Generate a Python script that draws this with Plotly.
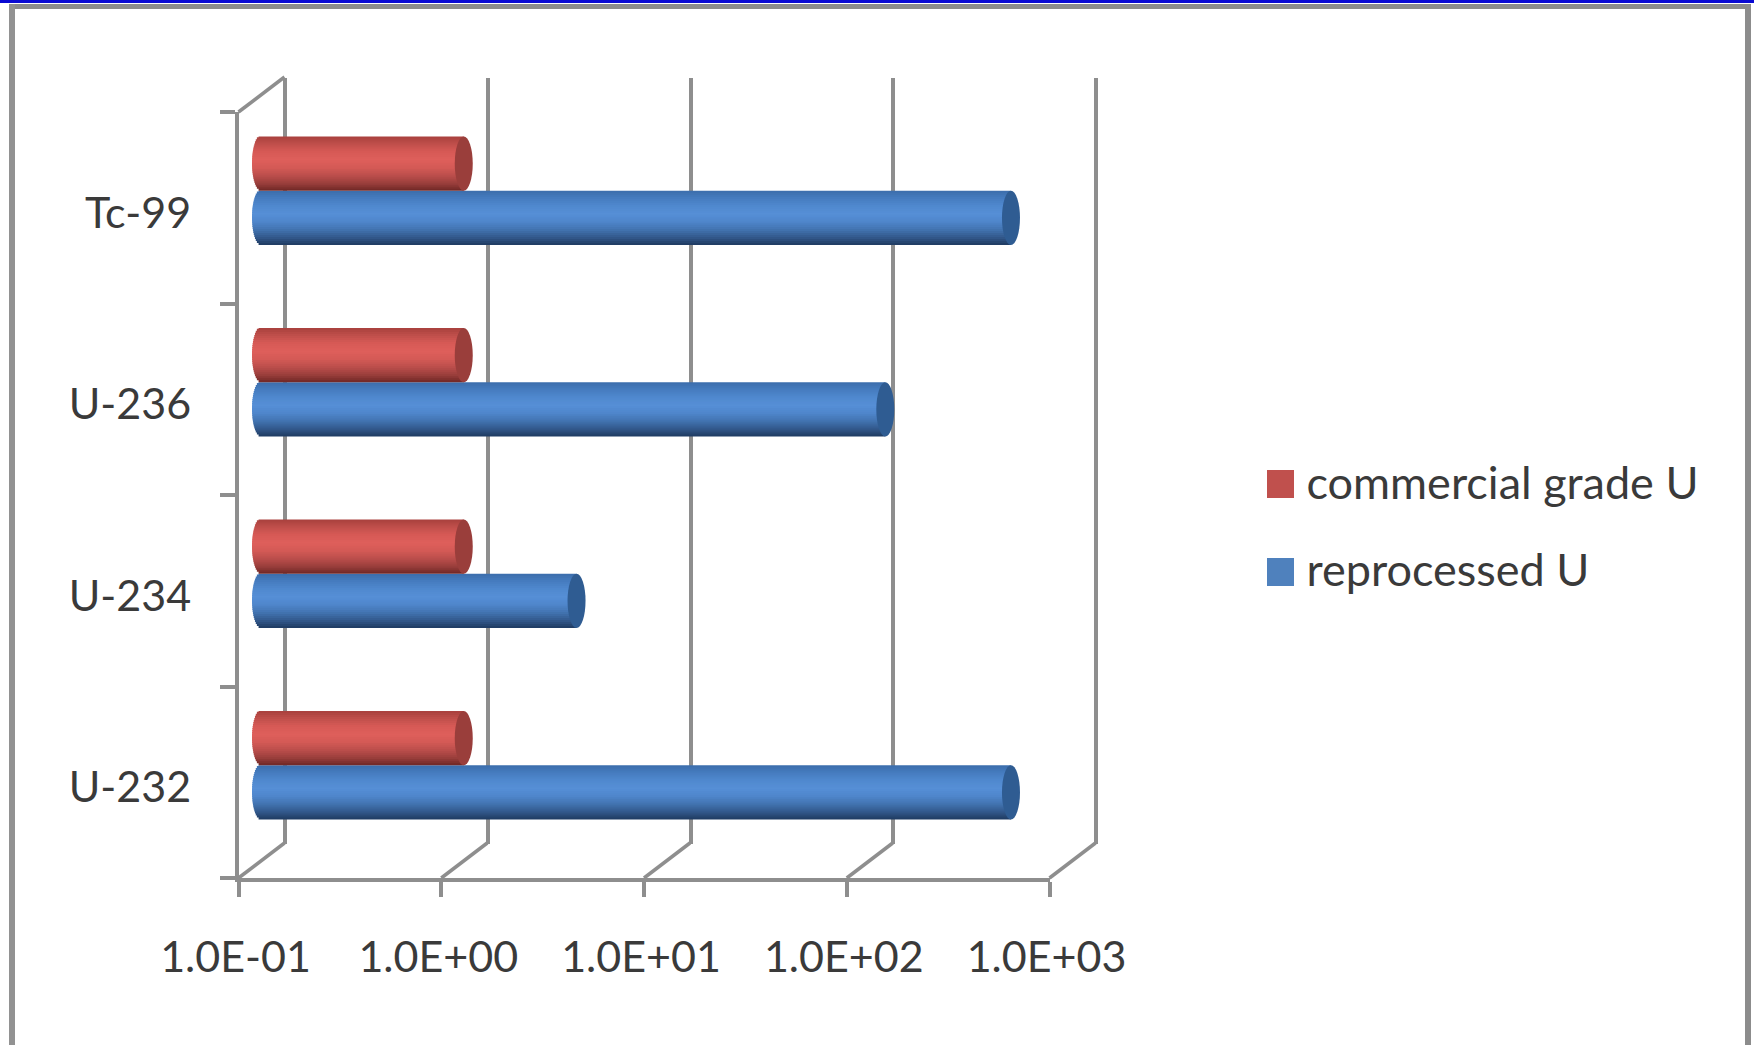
import numpy as np
import plotly.graph_objects as go

W, H = 1754, 1045

# ---- data ----
categories = ["U-232", "U-234", "U-236", "Tc-99"]
commercial_grade = [1.0, 1.0, 1.0, 1.0]
reprocessed = [500, 3.6, 120, 500]
x_ticks = [0.1, 1, 10, 100, 1000]
x_tick_labels = ["1.0E-01", "1.0E+00", "1.0E+01", "1.0E+02", "1.0E+03"]

# ---- styling ----
GREY = "#8e8e8e"
LINE_W = 3.5
TEXT = "#3a3a3a"
FONT = "Lato"
# vertical cylinder shading, top edge to bottom edge
RED_STOPS = ["#a8403d", "#c04f4b", "#d75a56", "#de5f5b", "#d45a56", "#bc4f4c", "#9c403d", "#6f2725"]
BLUE_STOPS = ["#3c6dab", "#467cc0", "#5089cf", "#568fd6", "#4f86cc", "#4273b0", "#33598c", "#1e3a60"]
RED_CAP, BLUE_CAP = "#9a3e3b", "#2f5c92"
RED_KEY, BLUE_KEY = "#c0504d", "#4f81bd"

BAR_SPAN = 0.283       # height of one cylinder, in category units
BANDS = 27             # horizontal slices that make up the shading
CAP_PX = 9             # half width of the elliptical bar ends
DECADE_PX = 202.75
BAR_LEFT_PX = 261      # where 0.1 sits on the mid-depth bar axis
FRONT_LEFT_PX = 238.5  # where 0.1 sits on the front axis
BAR_PAD_PX = 30        # extra room on both sides of the bar axis for bar ends and diagonals
GRID_PAD_PX = 4        # keeps the first and last gridline inside the axis range


def xdom(a, b):
    return [a / W, b / W]


def ydom(top, bottom):
    return [1 - bottom / H, 1 - top / H]


def shade(stops, t):
    rgb = [[int(s[i:i + 2], 16) for i in (1, 3, 5)] for s in stops]
    pos = t * (len(rgb) - 1)
    i = min(int(pos), len(rgb) - 2)
    f = pos - i
    c = [round(rgb[i][k] * (1 - f) + rgb[i + 1][k] * f) for k in range(3)]
    return f"rgb({c[0]},{c[1]},{c[2]})"


fig = go.Figure()

# back wall: carries the vertical gridlines, drawn first so bars sit on top of it
fig.add_trace(go.Scatter(x=x_ticks, y=[categories[0]] * 5, mode="none",
                         xaxis="x", yaxis="y", showlegend=False, hoverinfo="skip"))


def add_cylinder(values, stops, offset_sign):
    band = BAR_SPAN / BANDS
    for k in range(BANDS):                 # k = 0 is the lowest slice
        t_from_top = 1 - (k + 0.5) / BANDS
        u = 2 * t_from_top - 1
        reach = CAP_PX / DECADE_PX * np.sqrt(max(1 - u * u, 0))
        base = 10 ** (-1 - reach)
        low = (0 if offset_sign > 0 else -BAR_SPAN) + k * band
        fig.add_trace(go.Bar(
            y=categories, x=[v - base for v in values], base=base, orientation="h",
            offset=low, width=band * (1.6 if k < BANDS - 1 else 1.0),
            marker=dict(color=shade(stops, t_from_top), line_width=0),
            xaxis="x2", yaxis="y2", showlegend=False, hoverinfo="skip"))


add_cylinder(reprocessed, BLUE_STOPS, -1)
add_cylinder(commercial_grade, RED_STOPS, +1)

# legend entries; their colour keys are the larger squares added below
for name in ("commercial grade U", "reprocessed U"):
    fig.add_trace(go.Bar(y=categories, x=[None] * 4, name=name, orientation="h",
                         marker=dict(color="rgba(0,0,0,0)", line_width=0),
                         xaxis="x2", yaxis="y2", legendgroup=name, hoverinfo="skip"))

# front plane: tick marks and labels
fig.add_trace(go.Scatter(x=[x_ticks[0]] * 4, y=categories, mode="none",
                         xaxis="x3", yaxis="y3", showlegend=False, hoverinfo="skip"))

shapes = []
FRONT_TO_BAR = 10 ** ((FRONT_LEFT_PX - BAR_LEFT_PX) / DECADE_PX)


def diagonal(tick, y_px):
    # runs on the wider bar axis so the last one is not clipped at the front axis end
    return dict(type="line", xref="x2", yref="paper", xsizemode="pixel", ysizemode="pixel",
                xanchor=tick * FRONT_TO_BAR, yanchor=1 - y_px / H, x0=0, x1=46, y0=0, y1=35,
                line=dict(color=GREY, width=LINE_W), layer="below")


# floor diagonals from each front tick to the back wall, plus the top left edge
for tick in x_ticks:
    shapes.append(diagonal(tick, 878))
shapes.append(diagonal(x_ticks[0], 112))


def end_cap(value, y0, y1, colour):
    # pixel offsets run rightwards from the anchor, so anchor at the ellipse's left edge
    anchor = value * 10 ** (-CAP_PX / DECADE_PX)
    return dict(type="circle", xref="x2", yref="y2", xsizemode="pixel",
                xanchor=anchor, x0=0, x1=2 * CAP_PX,
                y0=y0, y1=y1, fillcolor=colour, line_width=0, layer="above")


# elliptical far ends of the cylinders
for i in range(len(categories)):
    shapes.append(end_cap(reprocessed[i], i - BAR_SPAN, i, BLUE_CAP))
    shapes.append(end_cap(commercial_grade[i], i, i + BAR_SPAN, RED_CAP))


def paper_rect(x0, y0, x1, y1, colour, layer="above"):
    return dict(type="rect", xref="paper", yref="paper", x0=x0 / W, x1=x1 / W,
                y0=1 - y0 / H, y1=1 - y1 / H, fillcolor=colour, line_width=0, layer=layer)


# legend keys
shapes.append(paper_rect(1267, 470, 1294, 498, RED_KEY))
shapes.append(paper_rect(1267, 558, 1294, 586, BLUE_KEY))

# picture frame
shapes.append(paper_rect(0, 0, W, 3, "#0a0ad2"))
shapes.append(paper_rect(9, 4, 1751, 9, "#8c8c8c"))
shapes.append(paper_rect(9, 4, 15, H, "#929292"))
shapes.append(paper_rect(1745, 4, 1751, H, "#8c8c8c"))

hidden = dict(visible=False)
tick_font = dict(family=FONT, size=43, color=TEXT)

fig.update_layout(
    width=W, height=H, margin=dict(l=0, r=0, t=0, b=0, autoexpand=False),
    paper_bgcolor="white", plot_bgcolor="rgba(0,0,0,0)",
    barmode="overlay", shapes=shapes, hovermode=False,
    font=dict(family=FONT, color=TEXT),
    # back wall
    xaxis=dict(type="log", range=[-1 - GRID_PAD_PX / DECADE_PX, 3 + GRID_PAD_PX / DECADE_PX],
               domain=xdom(285 - GRID_PAD_PX, 1096 + GRID_PAD_PX), anchor="y",
               tickvals=x_ticks, showgrid=True, gridcolor=GREY, gridwidth=LINE_W,
               showticklabels=False, ticks="", zeroline=False, showline=False),
    yaxis=dict(type="category", categoryorder="array", categoryarray=categories,
               range=[-0.5, 3.5], domain=ydom(78, 844), anchor="x", visible=False),
    # mid depth, where the bars stand
    xaxis2=dict(type="log", range=[-1 - BAR_PAD_PX / DECADE_PX, 3 + BAR_PAD_PX / DECADE_PX],
                domain=xdom(BAR_LEFT_PX - BAR_PAD_PX, BAR_LEFT_PX + 4 * DECADE_PX + BAR_PAD_PX),
                anchor="y2", **hidden),
    yaxis2=dict(type="category", categoryorder="array", categoryarray=categories,
                range=[-0.5, 3.5], domain=ydom(95, 861), anchor="x2", **hidden),
    # front plane with the labelled axes
    xaxis3=dict(type="log", range=[-1, 3], domain=xdom(FRONT_LEFT_PX, FRONT_LEFT_PX + 4 * DECADE_PX),
                anchor="y3", tickvals=x_ticks, ticktext=x_tick_labels, ticks="outside", ticklen=15,
                tickwidth=LINE_W, tickcolor=GREY, showline=True, linecolor=GREY, linewidth=LINE_W,
                showgrid=False, zeroline=False, tickfont=tick_font,
                ticklabelstandoff=24, ticklabelshift=-3),
    yaxis3=dict(type="category", categoryorder="array", categoryarray=categories,
                range=[-0.5, 3.5], domain=ydom(112, 878), anchor="x3",
                tickson="boundaries", ticks="outside", ticklen=15, tickwidth=LINE_W, tickcolor=GREY,
                showline=True, linecolor=GREY, linewidth=LINE_W, showgrid=False, zeroline=False,
                tickfont=tick_font, ticklabelstandoff=35, ticklabelshift=5),
    legend=dict(x=1266.5 / W, y=1 - 446 / H, xanchor="left", yanchor="top",
                bgcolor="rgba(0,0,0,0)", font=dict(family=FONT, size=45, color=TEXT),
                tracegroupgap=25, itemwidth=30),
)

fig.write_html("out.html", config={"displayModeBar": False})
